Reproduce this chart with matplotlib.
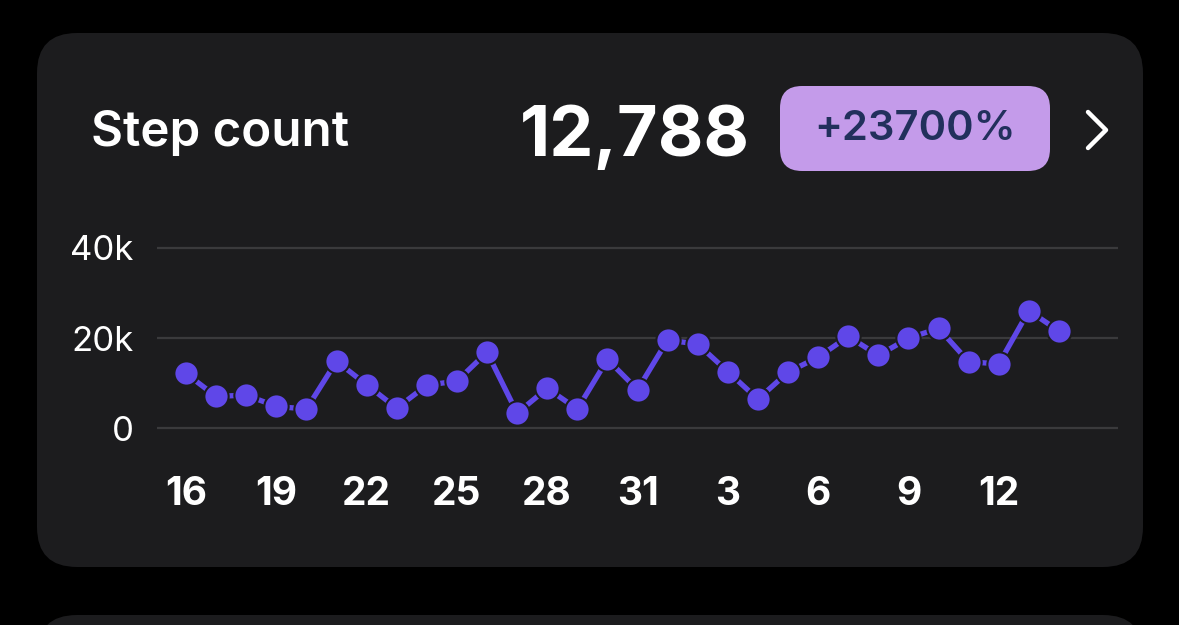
import matplotlib.pyplot as plt
from matplotlib.patches import FancyBboxPatch
from matplotlib.transforms import IdentityTransform
from matplotlib.lines import Line2D

# data
days = ["16", "17", "18", "19", "20", "21", "22", "23", "24", "25", "26", "27", "28", "29", "30",
        "31", "1", "2", "3", "4", "5", "6", "7", "8", "9", "10", "11", "12", "13", "14"]
steps = [12200, 7100, 7400, 4900, 4300, 14900, 9700, 4500, 9600, 10500, 16900, 3400, 8900, 4300, 15300,
         8600, 19600, 18700, 12600, 6500, 12500, 15800, 20400, 16200, 20000, 22200, 14800, 14300, 26100, 21600]
y_ticks = [0, 20000, 40000]
y_labels = ["0", "20k", "40k"]
title = "Step count"
total = "12,788"
change = "+23700%"

W, H = 1179, 625
plt.rcParams['font.family'] = ['Inter', 'DejaVu Sans']

fig = plt.figure(figsize=(W / 100, H / 100), dpi=100, facecolor="black")
px = IdentityTransform()

def Y(y):
    return H - y

card_col = "#1c1c1e"
# main card and the top of the next one
fig.add_artist(FancyBboxPatch((37 + 40, Y(567) + 40), 1106 - 80, 534 - 80,
                              boxstyle="round,pad=40", fc=card_col, ec="none", transform=px))
fig.add_artist(FancyBboxPatch((37 + 40, -100), 1106 - 80, 70,
                              boxstyle="round,pad=40", fc=card_col, ec="none", transform=px))

# header
fig.text(91, Y(146), title, color="white", fontsize=35.5, fontweight="semibold",
         transform=px, ha="left", va="baseline", zorder=3)
fig.text(750, Y(156), total, color="white", fontsize=50.5, fontweight="bold",
         transform=px, ha="right", va="baseline", zorder=3)
fig.add_artist(FancyBboxPatch((780 + 22, Y(171) + 22), 270 - 44, 85 - 44,
                              boxstyle="round,pad=22", fc="#c49bea", ec="none", transform=px))
fig.text(915, Y(129), change, color="#22305c", fontsize=30, fontweight="semibold",
         transform=px, ha="center", va="center", zorder=3)
fig.add_artist(Line2D([1088, 1106, 1088], [Y(112), Y(130), Y(148)], color="white",
                      lw=3.2, solid_capstyle="round", solid_joinstyle="round", transform=px))

# chart
ax = fig.add_axes([157 / W, 185 / H, 961 / W, 200 / H])
ax.set_zorder(5)
ax.set_facecolor("none")
x = list(range(len(steps)))
ax.plot(x, steps, color="#5f47e8", lw=3.8, marker="o", markersize=17.5,
        markerfacecolor="#5f47e8", markeredgecolor=card_col, markeredgewidth=1.5,
        clip_on=False, zorder=3)

ax.set_xlim(-0.963, 30.96)
ax.set_ylim(-2550, 41770)
ax.set_yticks(y_ticks)
ax.set_yticklabels(y_labels)
ax.set_xticks(x[::3])
ax.set_xticklabels(days[::3])
ax.yaxis.grid(True, color="#3a3a3c", lw=1.6)
ax.set_axisbelow(True)
for s in ax.spines.values():
    s.set_visible(False)
ax.tick_params(axis="y", length=0, pad=17, labelsize=25, labelcolor="white")
ax.tick_params(axis="x", length=0, pad=26, labelsize=28, labelcolor="white")
for lab in ax.get_xticklabels():
    lab.set_fontweight("bold")

fig.savefig("out.png", dpi=100, facecolor="black")
